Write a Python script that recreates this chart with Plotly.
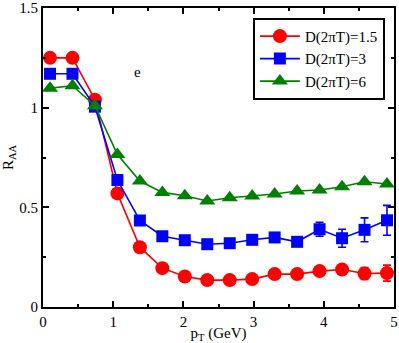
import plotly.graph_objects as go

# p_T grid (GeV)
pt = [0.10, 0.42, 0.74, 1.06, 1.38, 1.70, 2.02, 2.34, 2.66, 2.98, 3.30, 3.62, 3.94, 4.26, 4.58, 4.90]

raa_d15 = [1.25, 1.25, 1.04, 0.57, 0.30, 0.195, 0.153, 0.135, 0.135, 0.14, 0.165, 0.165, 0.18, 0.188, 0.168, 0.17]
err_d15 = [0, 0, 0, 0, 0, 0, 0, 0, 0, 0, 0, 0, 0.01, 0.02, 0.03, 0.04]

raa_d3 = [1.17, 1.17, 1.005, 0.637, 0.434, 0.355, 0.335, 0.315, 0.32, 0.337, 0.349, 0.327, 0.39, 0.345, 0.387, 0.435]
err_d3 = [0, 0, 0, 0, 0, 0, 0, 0, 0, 0, 0, 0, 0.035, 0.045, 0.06, 0.075]

raa_d6 = [1.098, 1.11, 1.01, 0.765, 0.632, 0.575, 0.558, 0.532, 0.548, 0.557, 0.567, 0.582, 0.587, 0.603, 0.628, 0.617]

x_ticks = [0, 1, 2, 3, 4, 5]
y_ticks = [0, 0.5, 1, 1.5]
y_ticktext = ['0', '0.5', '1', '1.5']

SERIF = 'Liberation Serif'

series = [
    ('D(2πT)=1.5', raa_d15, err_d15, '#ff0000', 'circle', 14),
    ('D(2πT)=3', raa_d3, err_d3, '#0000ff', 'square', 12),
    ('D(2πT)=6', raa_d6, None, '#008000', 'triangle-up', 14),
]

fig = go.Figure()
for name, y, err, col, sym, size in series:
    fig.add_trace(go.Scatter(
        x=pt, y=y, name=name, mode='lines+markers',
        line=dict(color=col, width=1.6),
        marker=dict(symbol=sym, size=size, color=col),
        error_y=dict(type='data', array=err, visible=err is not None,
                     color=col, thickness=1.6, width=4),
    ))

fig.add_annotation(x=1.345, y=1.18, text='e', showarrow=False,
                   font=dict(family=SERIF, size=15, color='black'))

axis_common = dict(
    showgrid=False, zeroline=False, ticks='inside', ticklen=6, tickwidth=1.5,
    tickcolor='black', showline=True, linecolor='black', linewidth=2,
    mirror='allticks', ticklabeloverflow='allow', automargin=False,
    tickfont=dict(family=SERIF, size=15, color='black'),
)

fig.update_layout(
    template='none',
    width=399, height=343,
    plot_bgcolor='white', paper_bgcolor='white',
    margin=dict(l=43, r=5, t=8, b=36),
    font=dict(family=SERIF, color='black'),
    xaxis=dict(range=[0, 5], tickvals=x_ticks, ticktext=[str(v) for v in x_ticks],
               minor=dict(tickvals=[0.5, 1.5, 2.5, 3.5, 4.5], ticklen=3, ticks='inside', tickcolor='black'),
               title=dict(text='p<sub>T</sub> (GeV)', font=dict(family=SERIF, size=15), standoff=4),
               **axis_common),
    yaxis=dict(range=[0, 1.5], tickvals=y_ticks, ticktext=y_ticktext,
               minor=dict(tickvals=[0.25, 0.75, 1.25], ticklen=3, ticks='inside', tickcolor='black'),
               title=dict(text='R<sub>AA</sub>', font=dict(family=SERIF, size=15), standoff=2),
               **axis_common),
    legend=dict(x=0.598, y=0.967, xanchor='left', yanchor='top',
                bgcolor='white', bordercolor='black', borderwidth=2,
                font=dict(family=SERIF, size=15), tracegroupgap=0,
                itemwidth=40),
    showlegend=True,
)

fig.write_html('out.html', config={'displayModeBar': False},
               post_script="document.body.style.margin='0';document.body.style.overflow='hidden';")
